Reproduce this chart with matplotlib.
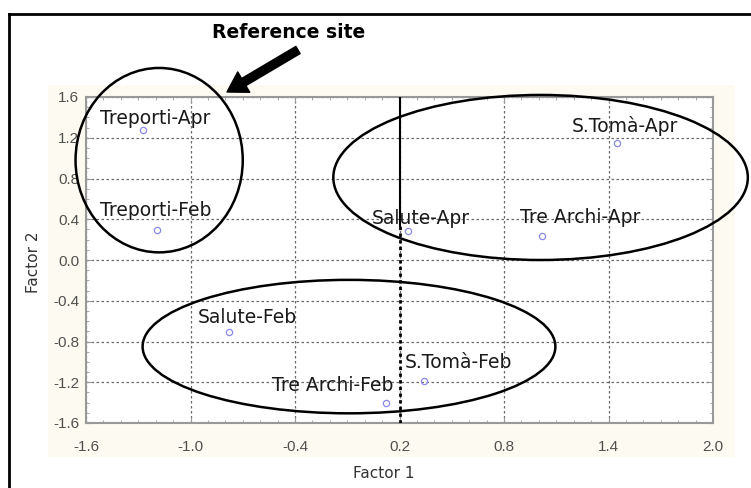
import numpy as np
import matplotlib
matplotlib.use("Agg")
import matplotlib.pyplot as plt
from matplotlib.patches import Ellipse, Rectangle
from matplotlib.lines import Line2D
from matplotlib.ticker import MultipleLocator

# sites / seasons, factor scores
names = ["Treporti-Apr", "Treporti-Feb", "S.Tomà-Apr", "Salute-Apr",
         "Tre Archi-Apr", "Salute-Feb", "Tre Archi-Feb", "S.Tomà-Feb"]
factor1 = [-1.27, -1.19, 1.45, 0.25, 1.02, -0.78, 0.12, 0.34]
factor2 = [1.28, 0.29, 1.15, 0.28, 0.24, -0.71, -1.40, -1.19]

xticks = [-1.6, -1.0, -0.4, 0.2, 0.8, 1.4, 2.0]
yticks = [-1.6, -1.2, -0.8, -0.4, 0.0, 0.4, 0.8, 1.2, 1.6]

# groups: (center x, center y, width, height)
groups = [(-1.18, 0.98, 0.96, 1.81),
          (1.01, 0.81, 2.38, 1.62),
          (-0.09, -0.85, 2.37, 1.31)]

# where each label sits (left edge, middle)
label_pos = [(-1.52, 1.39), (-1.52, 0.49), (1.19, 1.32), (0.04, 0.41),
             (0.89, 0.42), (-0.96, -0.56), (-0.53, -1.23), (0.23, -1.01)]

W, H = 751, 488
fig = plt.figure(figsize=(W / 100, H / 100), dpi=100)
fig.patch.set_facecolor("white")

# cream panel behind the axes
fig.add_artist(Rectangle((48 / W, 1 - 457 / H), (735 - 48) / W, (457 - 85) / H,
                         transform=fig.transFigure, facecolor="#fdfbf1",
                         edgecolor="none", zorder=0))
# outer frame (left and top only visible)
fig.add_artist(Line2D([9 / W, 9 / W], [0, 1 - 14 / H], transform=fig.transFigure,
                      color="black", lw=2))
fig.add_artist(Line2D([9 / W, 1], [1 - 14 / H, 1 - 14 / H], transform=fig.transFigure,
                      color="black", lw=2))

ax = fig.add_axes([86 / W, 65 / H, 627 / W, 326 / H])
ax.set_facecolor("white")
ax.set_xlim(-1.6, 2.0)
ax.set_ylim(-1.6, 1.6)
ax.set_xticks(xticks)
ax.set_yticks(yticks)
ax.set_xticklabels([f"{v:.1f}" for v in xticks], family="Liberation Sans")
ax.set_yticklabels([f"{v:.1f}" for v in yticks], family="Liberation Sans")
ax.xaxis.set_minor_locator(MultipleLocator(0.1))
ax.yaxis.set_minor_locator(MultipleLocator(0.1))
ax.tick_params(which="both", direction="in", colors="#999999", top=True, right=True)
ax.tick_params(which="major", length=4, labelsize=11, labelcolor="#505050")
ax.tick_params(which="minor", length=2.5)
ax.tick_params(axis="x", pad=12)
ax.tick_params(axis="y", pad=5)
for s in ax.spines.values():
    s.set_color("#999999")
    s.set_linewidth(1.5)
ax.grid(True, which="major", color="#6a6a6a", lw=0.9, linestyle=(0, (2, 2)))

# the 0.2 line, solid on top and dotted below
ax.plot([0.2, 0.2], [0.33, 1.6], color="black", lw=1.5, zorder=3)
ax.plot([0.2, 0.2], [-1.6, 0.33], color="black", lw=2, linestyle=(0, (1.2, 1.2)), zorder=3)

ax.plot(factor1, factor2, linestyle="none", marker="o", markersize=4.5,
        markerfacecolor="none", markeredgecolor="#8a8aee", markeredgewidth=0.9, zorder=4)

for name, (lx, ly) in zip(names, label_pos):
    ax.text(lx, ly, name, ha="left", va="center", fontsize=13.5, color="#1a1a1a", zorder=5)

for cx, cy, w, h in groups:
    ax.add_patch(Ellipse((cx, cy), w, h, fill=False, edgecolor="black", lw=1.8,
                         clip_on=False, zorder=6))

# arrow pointing at the reference site
ax.annotate("", xy=(227, H - 92), xycoords="figure pixels",
            xytext=(298, H - 50), textcoords="figure pixels",
            arrowprops=dict(facecolor="black", edgecolor="black", width=6,
                            headwidth=17, headlength=14, shrink=0))
fig.text(289 / W, 1 - 33 / H, "Reference site", ha="center", va="center",
         fontsize=13.5, fontweight="bold", color="black")

fig.text(384 / W, 1 - 473 / H, "Factor 1", ha="center", va="center",
         fontsize=11, color="#333333")
fig.text(33 / W, 1 - 262 / H, "Factor 2", ha="center", va="center",
         fontsize=11, color="#333333", rotation=90)

fig.savefig("out.png", dpi=100)
